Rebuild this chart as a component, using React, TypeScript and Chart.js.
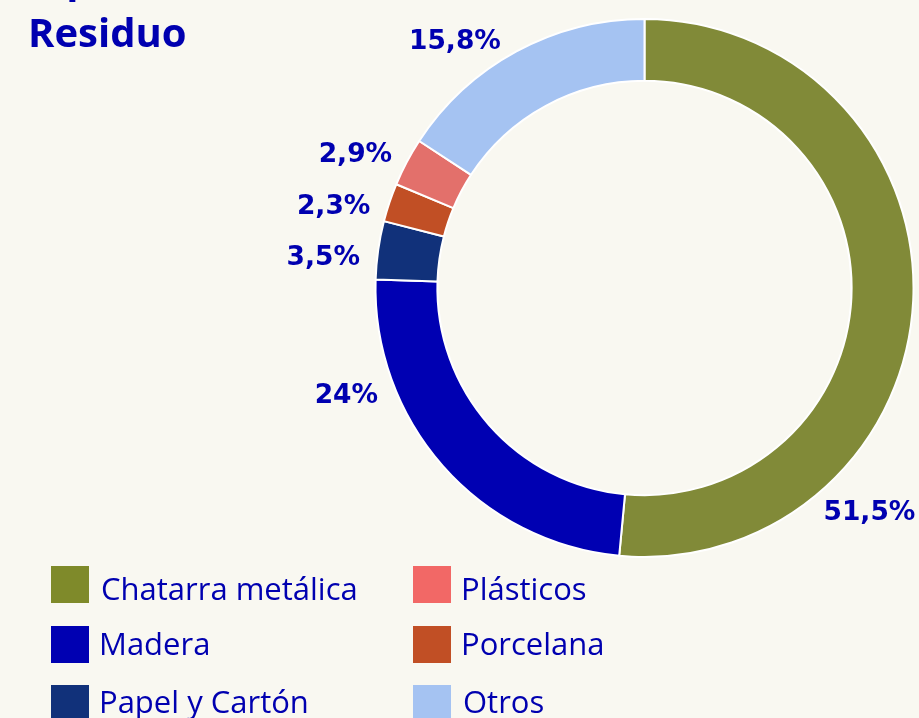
import React, { useEffect, useRef } from "react";
import { Chart, registerables } from "chart.js";

Chart.register(...registerables);

// ---- data ----
const categories = ["Chatarra metálica", "Madera", "Papel y Cartón", "Porcelana", "Plásticos", "Otros"];
const shares = [51.5, 24, 3.5, 2.3, 2.9, 15.8];
const titleLines = ["Tipo de", "Residuo"];
const legendColumns = [
  ["Chatarra metálica", "Madera", "Papel y Cartón"],
  ["Plásticos", "Porcelana", "Otros"],
];

// ---- styles ----
const sliceColors = ["#818a38", "#0000b2", "#11317a", "#c14f25", "#e3706b", "#a5c3f2"];
const swatchColors = ["#7f8a2a", "#0000b2", "#11317a", "#c14f25", "#f26866", "#a5c3f2"];
const BG = "#f9f8f1";
const INK = "#0000b0";
const labelFractions = [0.76, 0.73, 0.38, 0.3, 0.53, 0.47];

const fmt = (v: number) => String(v).replace(".", ",") + "%";

function drawInkLeft(ctx: CanvasRenderingContext2D, text: string, inkLeft: number, baseline: number) {
  ctx.textAlign = "left";
  ctx.textBaseline = "alphabetic";
  const m = ctx.measureText(text);
  ctx.fillText(text, inkLeft + m.actualBoundingBoxLeft, baseline);
}
function drawInkRight(ctx: CanvasRenderingContext2D, text: string, inkRight: number, baseline: number) {
  ctx.textAlign = "left";
  ctx.textBaseline = "alphabetic";
  const m = ctx.measureText(text);
  ctx.fillText(text, inkRight - m.actualBoundingBoxRight, baseline);
}

const decorPlugin = {
  id: "decor",
  beforeDraw(chart: any) {
    const ctx = chart.ctx;
    ctx.save();
    ctx.fillStyle = BG;
    ctx.fillRect(0, 0, chart.width, chart.height);
    ctx.restore();
  },
  afterDraw(chart: any) {
    const ctx: CanvasRenderingContext2D = chart.ctx;
    ctx.save();
    // title
    ctx.fillStyle = INK;
    ctx.font = "bold 40px 'Open Sans'";
    drawInkLeft(ctx, titleLines[0], 31, -7);
    drawInkLeft(ctx, titleLines[1], 31, 47);

    // value labels
    const meta = chart.getDatasetMeta(0);
    const fontSize = 26.5;
    ctx.font = `bold ${fontSize}px 'DejaVu Sans'`;
    meta.data.forEach((arc: any, i: number) => {
      const p = arc.getProps(["x", "y", "startAngle", "endAngle", "outerRadius"], true);
      const a = p.startAngle + labelFractions[i] * (p.endAngle - p.startAngle);
      const r = p.outerRadius + 18;
      const px = p.x + Math.cos(a) * r;
      const py = p.y + Math.sin(a) * r;
      const baseline = py + fontSize * 0.365;
      const text = fmt(shares[i]);
      if (Math.cos(a) < 0) drawInkRight(ctx, text, px, baseline);
      else drawInkLeft(ctx, text, px, baseline);
    });

    // legend
    const colX = [51, 413];
    const rowY = [566, 626, 685];
    const textBase = [600, 655, 713];
    ctx.font = "31px 'Open Sans'";
    legendColumns.forEach((col, c) => {
      col.forEach((name, r) => {
        const idx = categories.indexOf(name);
        ctx.fillStyle = swatchColors[idx];
        ctx.fillRect(colX[c], rowY[r], 38, 37);
        ctx.fillStyle = INK;
        drawInkLeft(ctx, name, colX[c] + 51, textBase[r]);
      });
    });
    ctx.restore();
  },
};

export default function App() {
  const ref = useRef<HTMLCanvasElement | null>(null);
  useEffect(() => {
    if (!ref.current) return;
    const chart = new Chart(ref.current, {
      type: "doughnut",
      data: {
        labels: categories,
        datasets: [
          {
            data: shares,
            backgroundColor: sliceColors,
            borderColor: "#ffffff",
            borderWidth: 2,
          },
        ],
      },
      options: {
        responsive: false,
        animation: false,
        cutout: "77%",
        layout: { padding: { left: 374.5, top: 18, right: 4.5, bottom: 160 } },
        plugins: {
          legend: { display: false },
          tooltip: { enabled: false },
          title: { display: false },
        },
      },
      plugins: [decorPlugin],
    });
    return () => chart.destroy();
  }, []);
  return (
    <div style={{ position: "fixed", left: 0, top: 0, width: 919, height: 718, background: BG, overflow: "hidden" }}>
      <canvas ref={ref} width={919} height={718} style={{ display: "block", width: 919, height: 718 }} />
    </div>
  );
}
